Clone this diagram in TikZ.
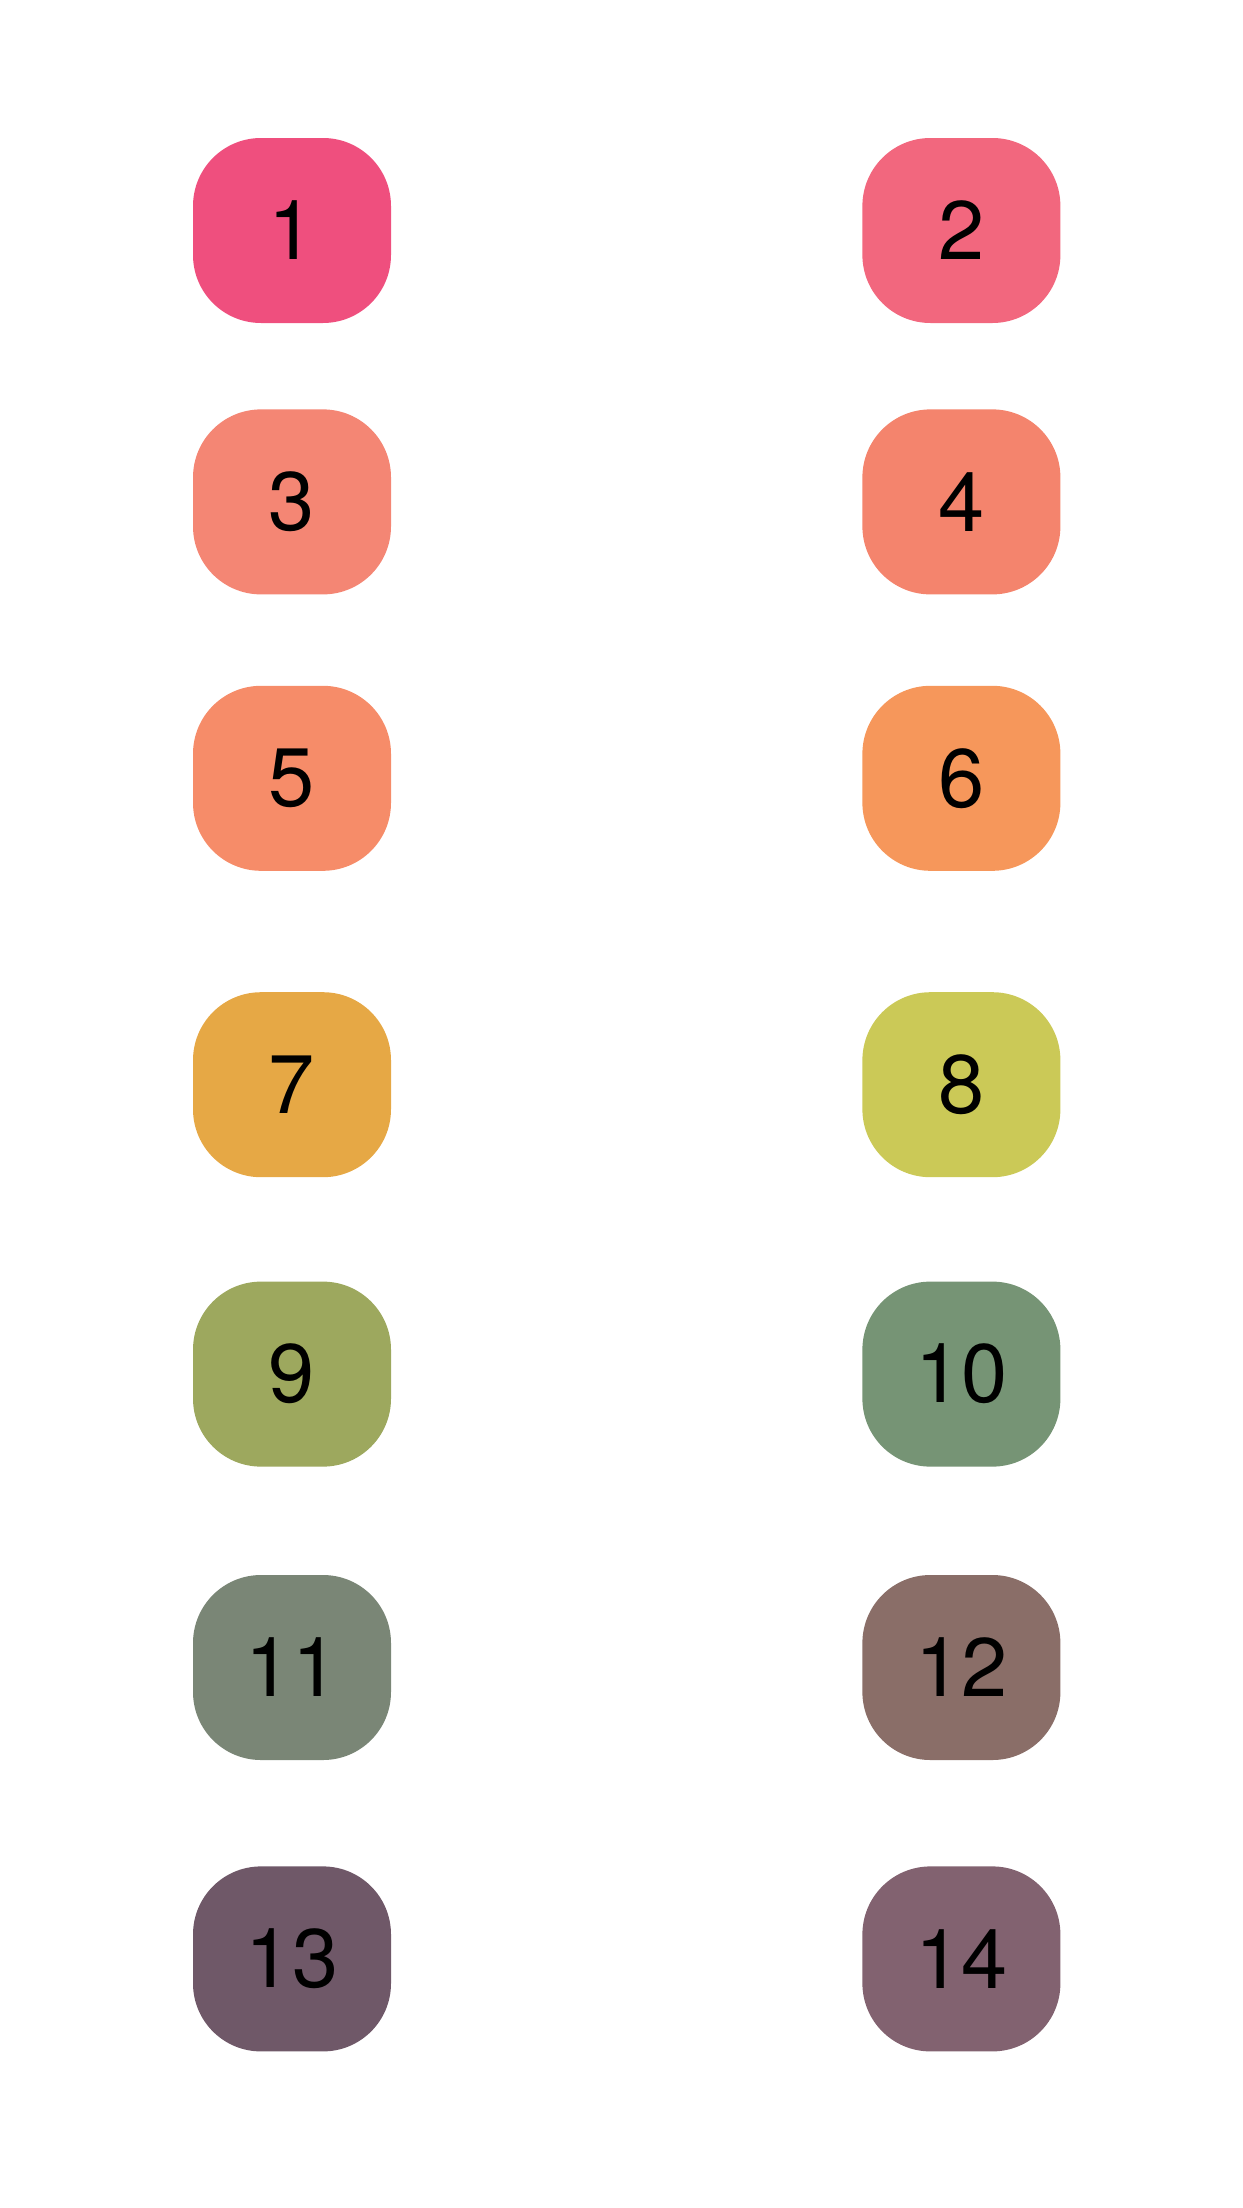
\documentclass[tikz,border=0pt]{standalone}
\usepackage{fontspec}
\setmainfont{TeX Gyre Heros}
\usepackage{tikz}
\usetikzlibrary{positioning}
\definecolor{tileA}{HTML}{EF4F7E}
\definecolor{tileB}{HTML}{F2677E}
\definecolor{tileC}{HTML}{F48674}
\definecolor{tileD}{HTML}{F4846D}
\definecolor{tileE}{HTML}{F68C69}
\definecolor{tileF}{HTML}{F6975B}
\definecolor{tileG}{HTML}{E6A845}
\definecolor{tileH}{HTML}{CBC957}
\definecolor{tileI}{HTML}{9DA85E}
\definecolor{tileJ}{HTML}{769475}
\definecolor{tileK}{HTML}{7A8676}
\definecolor{tileL}{HTML}{8A6E68}
\definecolor{tileM}{HTML}{6F5868}
\definecolor{tileN}{HTML}{826270}
\tikzstyle{tile} = [rectangle, text centered, rounded corners = 68pt, minimum width = 198pt, minimum height = 185pt, inner sep = 0pt, font = \fontsize{83}{83}\selectfont]

\begin{document}
\begin{tikzpicture}[x=1pt, y=1pt]
        \useasboundingbox (0,0) rectangle (1242,-2208);
        \node (t1) [tile, fill = tileA] at (292,-230.5) {1};
        \node (t2) [tile, fill = tileB, right = 471pt of t1] {2};
        \node (t3) [tile, fill = tileC, below = 86pt of t1] {3};
        \node (t4) [tile, fill = tileD, right = 471pt of t3] {4};
        \node (t5) [tile, fill = tileE, below = 91pt of t3] {5};
        \node (t6) [tile, fill = tileF, right = 471pt of t5] {6};
        \node (t7) [tile, fill = tileG, below = 121pt of t5] {7};
        \node (t8) [tile, fill = tileH, right = 471pt of t7] {8};
        \node (t9) [tile, fill = tileI, below = 104pt of t7] {9};
        \node (t10) [tile, fill = tileJ, right = 471pt of t9] {10};
        \node (t11) [tile, fill = tileK, below = 108pt of t9] {11};
        \node (t12) [tile, fill = tileL, right = 471pt of t11] {12};
        \node (t13) [tile, fill = tileM, below = 106pt of t11] {13};
        \node (t14) [tile, fill = tileN, right = 471pt of t13] {14};
    \end{tikzpicture}
\end{document}
